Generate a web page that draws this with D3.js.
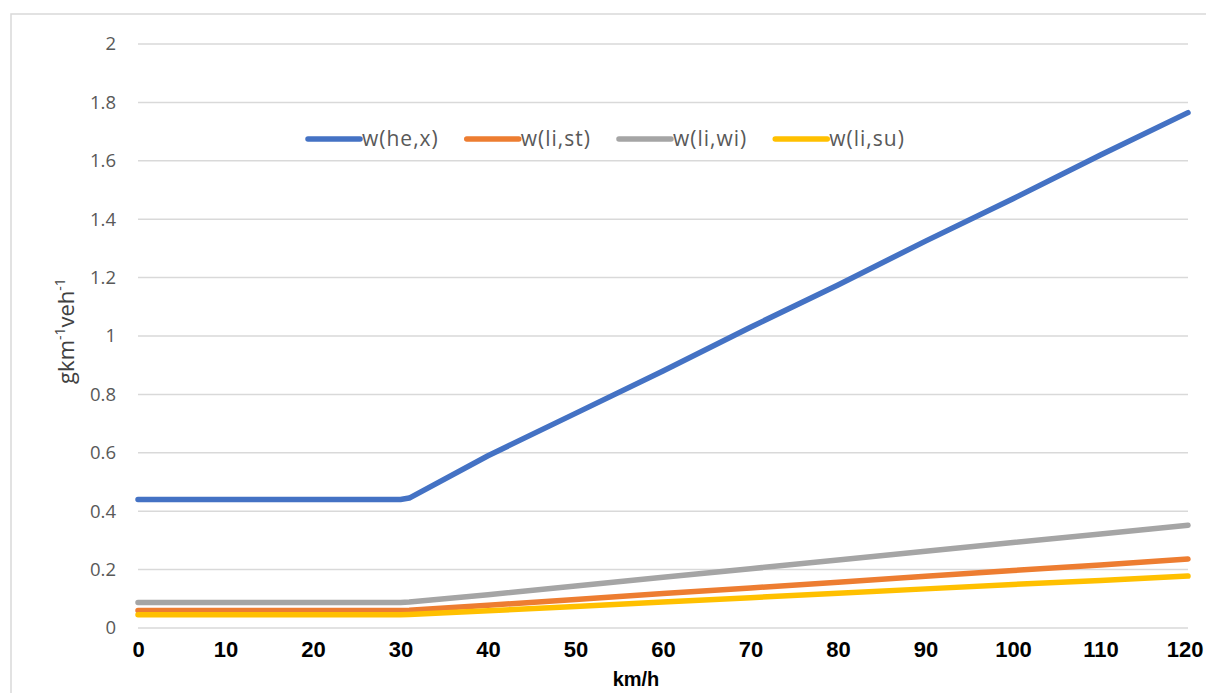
<!DOCTYPE html>
<html>
<head>
<meta charset="utf-8">
<script src="https://cdn.jsdelivr.net/npm/d3@7"></script>
<style>
  html, body { margin: 0; padding: 0; background: #fff; }
  svg { display: block; }
</style>
</head>
<body>
<svg id="chart" width="1206" height="693"></svg>
<script>
// ---- data ----
const speeds = [0, 10, 20, 30, 31, 40, 50, 60, 70, 80, 90, 100, 110, 120];
const wHeX  = [0.44, 0.44, 0.44, 0.44, 0.445, 0.59, 0.735, 0.88, 1.03, 1.175, 1.325, 1.47, 1.62, 1.765];
const wLiSt = [0.060, 0.060, 0.060, 0.060, 0.061, 0.078, 0.098, 0.118, 0.137, 0.157, 0.177, 0.197, 0.216, 0.236];
const wLiWi = [0.087, 0.087, 0.087, 0.087, 0.089, 0.114, 0.144, 0.174, 0.203, 0.233, 0.263, 0.293, 0.322, 0.352];
const wLiSu = [0.045, 0.045, 0.045, 0.045, 0.046, 0.059, 0.074, 0.089, 0.104, 0.119, 0.134, 0.149, 0.163, 0.178];
const seriesNames = ["w(he,x)", "w(li,st)", "w(li,wi)", "w(li,su)"];
const xTicks = [0, 10, 20, 30, 40, 50, 60, 70, 80, 90, 100, 110, 120];
const yTicks = [0, 0.2, 0.4, 0.6, 0.8, 1, 1.2, 1.4, 1.6, 1.8, 2];
const xTitle = "km/h";

// ---- styles ----
const colors = ["#4472C4", "#ED7D31", "#A5A5A5", "#FFC000"];
const seriesValues = [wHeX, wLiSt, wLiWi, wLiSu];

const svg = d3.select("#chart");

// outer chart border
svg.append("rect")
  .attr("x", 11).attr("y", 14)
  .attr("width", 1210).attr("height", 700)
  .attr("fill", "#fff")
  .attr("stroke", "#D9D9D9").attr("stroke-width", 1.5);

const x = d3.scaleLinear().domain([0, 120]).range([138, 1188]);
const y = d3.scaleLinear().domain([0, 2]).range([628, 44]);

// gridlines
svg.append("g")
  .selectAll("line").data(yTicks).join("line")
  .attr("x1", x(0)).attr("x2", x(120))
  .attr("y1", d => y(d)).attr("y2", d => y(d))
  .attr("stroke", "#D9D9D9").attr("stroke-width", 1.5);

// y axis labels
const yAxis = d3.axisLeft(y).tickValues(yTicks).tickSize(0).tickPadding(0)
  .tickFormat(d => String(d));
const gy = svg.append("g").attr("transform", "translate(116,0)").call(yAxis);
gy.select(".domain").remove();
gy.selectAll("text")
  .attr("font-family", "'Open Sans', 'Noto Sans', sans-serif")
  .attr("font-size", 18.5)
  .attr("fill", "#595959");

// x axis labels
const xAxis = d3.axisBottom(x).tickValues(xTicks).tickSize(0).tickPadding(0)
  .tickFormat(d => String(d));
const gx = svg.append("g").attr("transform", "translate(0,641)").call(xAxis);
gx.select(".domain").remove();
gx.selectAll("text")
  .attr("font-family", "'Liberation Sans', Arial, sans-serif")
  .attr("font-weight", "bold")
  .attr("font-size", 22)
  .attr("fill", "#000");
// keep the last label inside the picture
gx.selectAll(".tick").filter(d => d === xTicks[xTicks.length - 1]).select("text")
  .attr("text-anchor", "end")
  .attr("x", 15);

// x title
svg.append("text")
  .attr("x", 636).attr("y", 686)
  .attr("text-anchor", "middle")
  .attr("font-family", "'Liberation Sans', Arial, sans-serif")
  .attr("font-weight", "bold")
  .attr("font-size", 20)
  .attr("fill", "#000")
  .text(xTitle);

// y title with superscripts
const yt = svg.append("text")
  .attr("transform", "translate(74,331) rotate(-90)")
  .attr("text-anchor", "middle")
  .attr("font-family", "'Open Sans', 'Noto Sans', sans-serif")
  .attr("font-size", 22)
  .attr("fill", "#404040");
yt.append("tspan").text("gkm");
yt.append("tspan").attr("font-size", 14).attr("dy", -9).text("-1");
yt.append("tspan").attr("dy", 9).text("veh");
yt.append("tspan").attr("font-size", 14).attr("dy", -9).text("-1");

// lines
const line = d3.line()
  .x((d, i) => x(speeds[i]))
  .y(d => y(d));

svg.append("g")
  .selectAll("path").data(seriesValues).join("path")
  .attr("d", d => line(d))
  .attr("fill", "none")
  .attr("stroke", (d, i) => colors[i])
  .attr("stroke-width", 5.5)
  .attr("stroke-linejoin", "round")
  .attr("stroke-linecap", "round");

// legend
const legend = svg.append("g");
let lx = 308;
const ly = 139;
seriesNames.forEach((name, i) => {
  legend.append("line")
    .attr("x1", lx).attr("x2", lx + 52)
    .attr("y1", ly).attr("y2", ly)
    .attr("stroke", colors[i]).attr("stroke-width", 5.5)
    .attr("stroke-linecap", "round");
  const t = legend.append("text")
    .attr("x", lx + 54).attr("y", ly)
    .attr("dy", "0.35em")
    .attr("font-family", "'Open Sans', 'Noto Sans', sans-serif")
    .attr("font-size", 21)
    .attr("letter-spacing", 1)
    .attr("fill", "#595959")
    .text(name);
  const w = t.node().getComputedTextLength();
  lx = lx + 54 + w + 28;
});
</script>
</body>
</html>
